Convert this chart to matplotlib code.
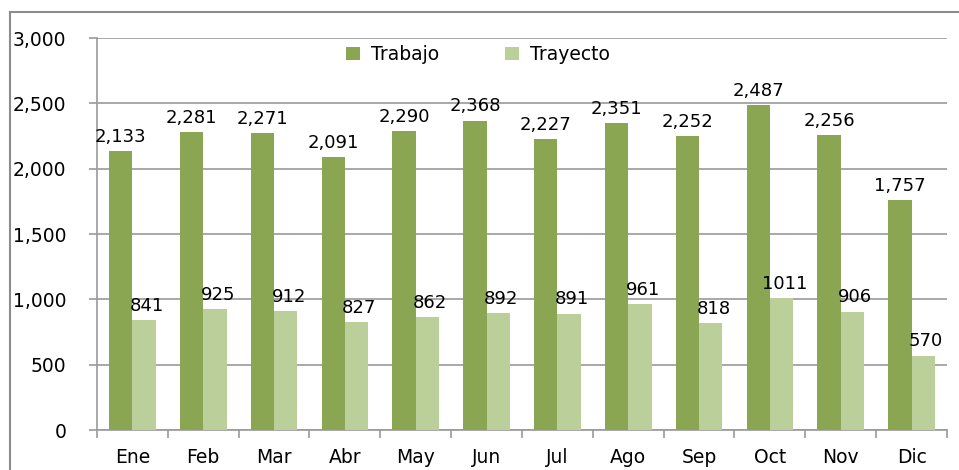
# Accidentes por mes: Trabajo vs Trayecto
import matplotlib.pyplot as plt
import matplotlib.patches as patches
import numpy as np

meses = ["Ene", "Feb", "Mar", "Abr", "May", "Jun", "Jul", "Ago", "Sep", "Oct", "Nov", "Dic"]
trabajo = [2133, 2281, 2271, 2091, 2290, 2368, 2227, 2351, 2252, 2487, 2256, 1757]
trayecto = [841, 925, 912, 827, 862, 892, 891, 961, 818, 1011, 906, 570]
etiquetas_trabajo = ["2,133", "2,281", "2,271", "2,091", "2,290", "2,368", "2,227",
                     "2,351", "2,252", "2,487", "2,256", "1,757"]
etiquetas_trayecto = ["841", "925", "912", "827", "862", "892", "891", "961", "818",
                      "1011", "906", "570"]

verde_oscuro = "#8aa652"
verde_claro = "#bacf99"
gris = "#9a9a9a"

plt.rcParams['font.family'] = ['DejaVu Sans']

fig = plt.figure(figsize=(9.59, 4.70), dpi=100)
ax = fig.add_axes([0.1011, 0.0851, 0.8864, 0.834])

x = np.arange(len(meses))
w = 0.33
b1 = ax.bar(x - w / 2, trabajo, w, color=verde_oscuro, label="Trabajo", zorder=3)
b2 = ax.bar(x + w / 2, trayecto, w, color=verde_claro, label="Trayecto", zorder=3)

# etiquetas de datos
for i in range(len(meses)):
    ax.text(x[i] - w / 2, trabajo[i] + 40, etiquetas_trabajo[i], ha="center", va="bottom",
            fontsize=13, color="black", zorder=4)
    ax.text(x[i] + w / 2 + 0.04, trayecto[i] + 40, etiquetas_trayecto[i], ha="center",
            va="bottom", fontsize=13, color="black", zorder=4)

ax.set_xlim(-0.5, len(meses) - 0.5)
ax.set_ylim(0, 3000)
ax.set_yticks(np.arange(0, 3001, 500))
ax.set_yticklabels(["{:,}".format(v) for v in range(0, 3001, 500)], fontsize=13.5)
ax.set_xticks(x)
ax.set_xticklabels(meses, fontsize=13.5)
ax.set_xticks(np.arange(-0.5, len(meses), 1), minor=True)
ax.tick_params(axis="x", which="major", length=0, pad=13)
ax.tick_params(axis="x", which="minor", length=6, color=gris, width=1.2)
ax.tick_params(axis="y", length=6, color=gris, width=1.2, pad=16)

ax.grid(axis="y", color=gris, linewidth=1.2, zorder=0)
for s in ["top", "right"]:
    ax.spines[s].set_visible(False)
for s in ["left", "bottom"]:
    ax.spines[s].set_color(gris)
    ax.spines[s].set_linewidth(1.2)

leg = ax.legend(loc="upper center", bbox_to_anchor=(0.448, 1.025), ncol=2, frameon=False,
                fontsize=13.5, handlelength=0.75, handleheight=0.75, columnspacing=3.5,
                handletextpad=0.6)

# marco exterior del grafico
marco = patches.Rectangle((10 / 959, -0.1), 1.0, 1.1 - 12 / 470, transform=fig.transFigure,
                          fill=False, edgecolor="#8c8c8c", linewidth=1.5, clip_on=False)
fig.patches.append(marco)

fig.savefig("out.png", dpi=100)
